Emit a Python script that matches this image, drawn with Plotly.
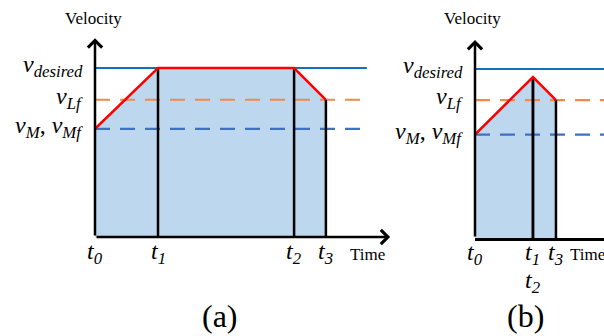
import plotly.graph_objects as go

# ---- data (schematic units) ----
# Panel (a)
t_a = [0.0, 2.0, 6.32, 7.33]
v_a = [16.0, 25.0, 25.0, 20.3]
t_names_a = ["t<sub>0</sub>", "t<sub>1</sub>", "t<sub>2</sub>", "t<sub>3</sub>"]
levels_a = {"desired": 25.0, "Lf": 20.3, "M": 16.0}

# Panel (b)
t_b = [0.0, 1.84, 1.84, 2.57]
v_b = [15.3, 23.8, 23.8, 20.4]
t_names_b = ["t<sub>0</sub>", "t<sub>1</sub>", "t<sub>2</sub>", "t<sub>3</sub>"]
levels_b = {"desired": 25.0, "Lf": 20.4, "M": 15.3}

level_labels = {
    "desired": "<i>v</i><sub><i>desired</i></sub>",
    "Lf": "<i>v</i><sub><i>Lf</i></sub>",
    "M": "<i>v</i><sub><i>M</i></sub>, <i>v</i><sub><i>Mf</i></sub>",
}
level_styles = {
    "desired": dict(color="#0F72BA", width=2.2, dash="solid"),
    "Lf": dict(color="#F08A4B", width=2.2, dash="15px,10px"),
    "M": dict(color="#3F70C4", width=2.2, dash="15px,10px"),
}

W, H = 604, 336
PX_T = 31.5   # px per time unit
PX_V = 6.76   # px per velocity unit
SERIF = "Liberation Serif"

fig = go.Figure()

panels = [
    dict(t=t_a, v=v_a, names=t_names_a, lv=levels_a, x0=95, y0=237, xend=395, lend=8.63,
         xarrow=9.37, yarrow=29.4, sfx="", label="(a)", lab_x=220, vel_x=93, time_x=348),
    dict(t=t_b, v=v_b, names=t_names_b, lv=levels_b, x0=475, y0=238, xend=604, lend=5.0,
         xarrow=None, yarrow=29.3, sfx="2", label="(b)", lab_x=525, vel_x=473, time_x=568),
]

annotations = []
for p in panels:
    xr = "x" + p["sfx"]
    yr = "y" + p["sfx"]
    fig.add_trace(go.Scatter(x=p["t"], y=p["v"], mode="lines", fill="tozeroy",
                             fillcolor="#BDD7EE", line=dict(width=0), xaxis=xr, yaxis=yr,
                             hoverinfo="skip", showlegend=False))
    for k, val in p["lv"].items():
        fig.add_trace(go.Scatter(x=[0, p["lend"]], y=[val, val], mode="lines",
                                 line=level_styles[k], xaxis=xr, yaxis=yr, showlegend=False))
        annotations.append(dict(x=0, y=val, xref=xr, yref=yr, text=level_labels[k],
                                showarrow=False, xanchor="right", yanchor="middle", xshift=-10,
                                yshift=2, font=dict(family=SERIF, size=24, color="black")))
    for ti, vi in zip(p["t"][1:], p["v"][1:]):
        fig.add_trace(go.Scatter(x=[ti, ti], y=[0, vi], mode="lines",
                                 line=dict(color="black", width=2.5), xaxis=xr, yaxis=yr,
                                 showlegend=False))
    fig.add_trace(go.Scatter(x=p["t"], y=p["v"], mode="lines",
                             line=dict(color="#FF0000", width=2.5), xaxis=xr, yaxis=yr,
                             showlegend=False))
    seen = {}
    for ti, nm in zip(p["t"], p["names"]):
        n = seen.get(ti, 0)
        seen[ti] = n + 1
        annotations.append(dict(x=ti, y=0, xref=xr, yref=yr, text="<i>" + nm + "</i>",
                                showarrow=False, xanchor="center", yanchor="middle",
                                yshift=-16 - 28 * n,
                                font=dict(family=SERIF, size=24, color="black")))
    annotations.append(dict(x=0, y=p["yarrow"], ax=0, ay=0, xref=xr, yref=yr, axref=xr, ayref=yr,
                            text="", showarrow=True, arrowhead=4, arrowsize=1.1, arrowwidth=2.5,
                            arrowcolor="black", standoff=0))
    if p["xarrow"] is not None:
        annotations.append(dict(x=p["xarrow"], y=0, ax=0, ay=0, xref=xr, yref=yr, axref=xr,
                                ayref=yr, text="", showarrow=True, arrowhead=4, arrowsize=1.1,
                                arrowwidth=2.5, arrowcolor="black", standoff=0))
    annotations.append(dict(x=p["vel_x"] / W, y=1 - 18 / H, xref="paper", yref="paper",
                            text="Velocity", showarrow=False, xanchor="center", yanchor="middle",
                            font=dict(family=SERIF, size=17, color="black")))
    annotations.append(dict(x=p["time_x"] / W, y=1 - 254 / H, xref="paper", yref="paper",
                            text="Time", showarrow=False, xanchor="left", yanchor="middle",
                            font=dict(family=SERIF, size=17, color="black")))
    annotations.append(dict(x=p["lab_x"] / W, y=1 - 316 / H, xref="paper", yref="paper",
                            text=p["label"], showarrow=False, xanchor="center", yanchor="middle",
                            font=dict(family=SERIF, size=32, color="black")))

def xax(p, show_line):
    return dict(domain=[p["x0"] / W, p["xend"] / W], range=[0, (p["xend"] - p["x0"]) / PX_T],
                showgrid=False, zeroline=False, showticklabels=False, ticks="",
                showline=show_line, linecolor="black", linewidth=2.5, fixedrange=True)

def yax(p):
    top = 30
    return dict(domain=[1 - p["y0"] / H, 1 - top / H], range=[0, (p["y0"] - top) / PX_V],
                showgrid=False, zeroline=False, showticklabels=False, ticks="",
                showline=False, fixedrange=True)

fig.update_layout(
    width=W, height=H, margin=dict(l=0, r=0, t=0, b=0),
    paper_bgcolor="white", plot_bgcolor="rgba(0,0,0,0)",
    xaxis=dict(xax(panels[0], False), anchor="y"), yaxis=dict(yax(panels[0]), anchor="x"),
    xaxis2=dict(xax(panels[1], True), anchor="y2"), yaxis2=dict(yax(panels[1]), anchor="x2"),
    annotations=annotations, showlegend=False,
)

fig.write_html("out.html")
